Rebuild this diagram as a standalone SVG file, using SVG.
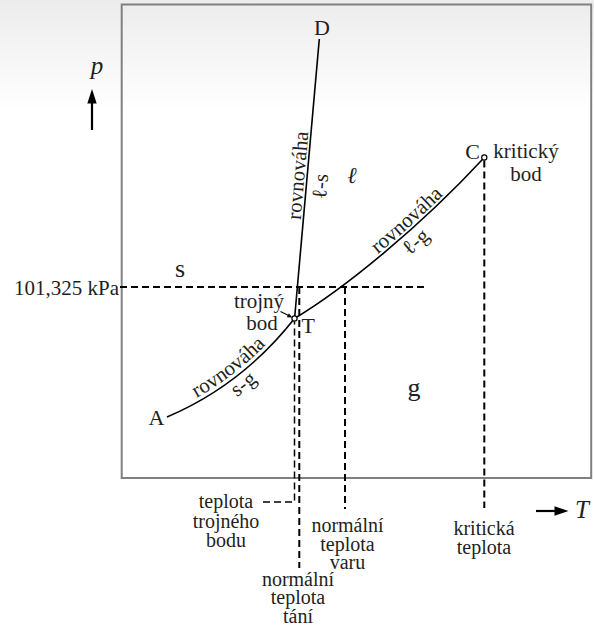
<svg xmlns="http://www.w3.org/2000/svg" width="594" height="630" viewBox="0 0 594 630">
<defs>
  <linearGradient id="bg" x1="0" y1="0" x2="0" y2="110" gradientUnits="userSpaceOnUse">
    <stop offset="0" stop-color="#ececec"/>
    <stop offset="1" stop-color="#ffffff"/>
  </linearGradient>
  <path id="sg" d="M167,417 C200,403 250,375 294.5,318.5"/>
  <path id="lg" d="M294.5,318.5 C345,288 420,227 484.3,157.5"/>
</defs>
<style>
  text { font-family: "Liberation Serif", "Times New Roman", serif; fill: #231f20; }
  .lbl { font-size: 21px; }
  .sm { font-size: 20px; }
  .pt { font-size: 22px; }
  .ph { font-size: 26px; }
  .ax { font-size: 25px; font-style: italic; }
  .mid { text-anchor: middle; }
  .dash { stroke: #000; stroke-width: 2; stroke-dasharray: 7 4; fill: none; }
  .thin { stroke-width: 1.5; }
  .curve { stroke: #000; stroke-width: 1.6; fill: none; }
  .head { fill: #000; }
  .dot { fill: #fff; stroke: #000; stroke-width: 1.2; }
</style>

<rect x="0" y="0" width="594" height="630" fill="url(#bg)"/>
<rect id="frame" x="121.7" y="4.5" width="469.5" height="473.5" fill="none" stroke="#808080" stroke-width="2"/>

<g id="connectors">
  <use href="#sg" class="curve"/>
  <use href="#lg" class="curve"/>
  <path class="curve" d="M319.3,39 L294.8,316"/>
  <path class="dash" d="M120,287 H424"/>
  <path class="dash thin" d="M263,502 H294.5 V321.5"/>
  <path class="dash" d="M299.3,287 V568"/>
  <path class="dash" d="M345,287 V509"/>
  <path class="dash" d="M484.3,160.5 V508"/>
  <path d="M280.5,311.5 L288.5,315.6" stroke="#000" stroke-width="1.1" fill="none"/>
  <polygon class="head" points="292.3,317.6 286.85,317.29 288.85,313.37"/>
  <path d="M92,130 V100" stroke="#000" stroke-width="2.2"/>
  <polygon class="head" points="92,89 87.3,103.5 96.7,103.5"/>
  <path d="M536,511 H556" stroke="#000" stroke-width="2.2"/>
  <polygon class="head" points="568.5,511 554.5,506.3 554.5,515.7"/>
</g>

<g id="axis-p"><text class="ax mid" x="97" y="74">p</text></g>
<g id="axis-T"><text class="ax" x="575" y="518">T</text></g>

<g id="point-D"><text class="pt mid" x="322" y="35">D</text></g>
<g id="point-A"><text class="pt mid" x="156.5" y="425">A</text></g>
<g id="point-C">
  <circle class="dot" cx="484.3" cy="157.5" r="2.6"/>
  <text class="pt" x="480" y="159" text-anchor="end">C</text>
  <text class="lbl mid" x="526" y="158">kritický</text>
  <text class="lbl mid" x="526" y="181">bod</text>
</g>
<g id="point-T">
  <circle class="dot" cx="294.5" cy="318.5" r="2.6"/>
  <text class="pt" x="301.5" y="333">T</text>
  <text class="lbl mid" x="259" y="308">trojný</text>
  <text class="lbl mid" x="262" y="330">bod</text>
</g>

<g id="phase-s"><text class="ph mid" x="180" y="277">s</text></g>
<g id="phase-l"><text class="mid" x="352" y="183" style="font-size:23px;font-style:italic">ℓ</text></g>
<g id="phase-g"><text class="ph mid" x="414" y="396">g</text></g>

<g id="eq-ls">
  <text class="lbl mid" x="304.5" y="176" transform="rotate(-85 304.5 176)">rovnováha</text>
  <text class="lbl mid" x="327" y="187" transform="rotate(-85 327 187)">ℓ-s</text>
</g>
<g id="eq-sg">
  <text class="lbl"><textPath href="#sg" startOffset="49%" text-anchor="middle"><tspan dy="-4">rovnováha</tspan></textPath></text>
  <text class="lbl"><textPath href="#sg" startOffset="50%" text-anchor="middle"><tspan dy="17">s-g</tspan></textPath></text>
</g>
<g id="eq-lg">
  <text class="lbl"><textPath href="#lg" startOffset="60%" text-anchor="middle"><tspan dy="-3">rovnováha</tspan></textPath></text>
  <text class="lbl"><textPath href="#lg" startOffset="57%" text-anchor="middle"><tspan dy="19">ℓ-g</tspan></textPath></text>
</g>

<g id="pressure-label"><text class="lbl" x="119" y="295" text-anchor="end">101,325 kPa</text></g>

<g id="label-triple-temp">
  <text class="sm mid" x="226" y="508">teplota</text>
  <text class="sm mid" x="226" y="527.5">trojného</text>
  <text class="sm mid" x="226" y="547">bodu</text>
</g>
<g id="label-melting">
  <text class="sm mid" x="298" y="585.5">normální</text>
  <text class="sm mid" x="298" y="604">teplota</text>
  <text class="sm mid" x="298" y="622.5">tání</text>
</g>
<g id="label-boiling">
  <text class="sm mid" x="347.5" y="532">normální</text>
  <text class="sm mid" x="347.5" y="550.5">teplota</text>
  <text class="sm mid" x="347.5" y="569">varu</text>
</g>
<g id="label-critical">
  <text class="sm mid" x="484" y="535">kritická</text>
  <text class="sm mid" x="484" y="553.5">teplota</text>
</g>
</svg>
